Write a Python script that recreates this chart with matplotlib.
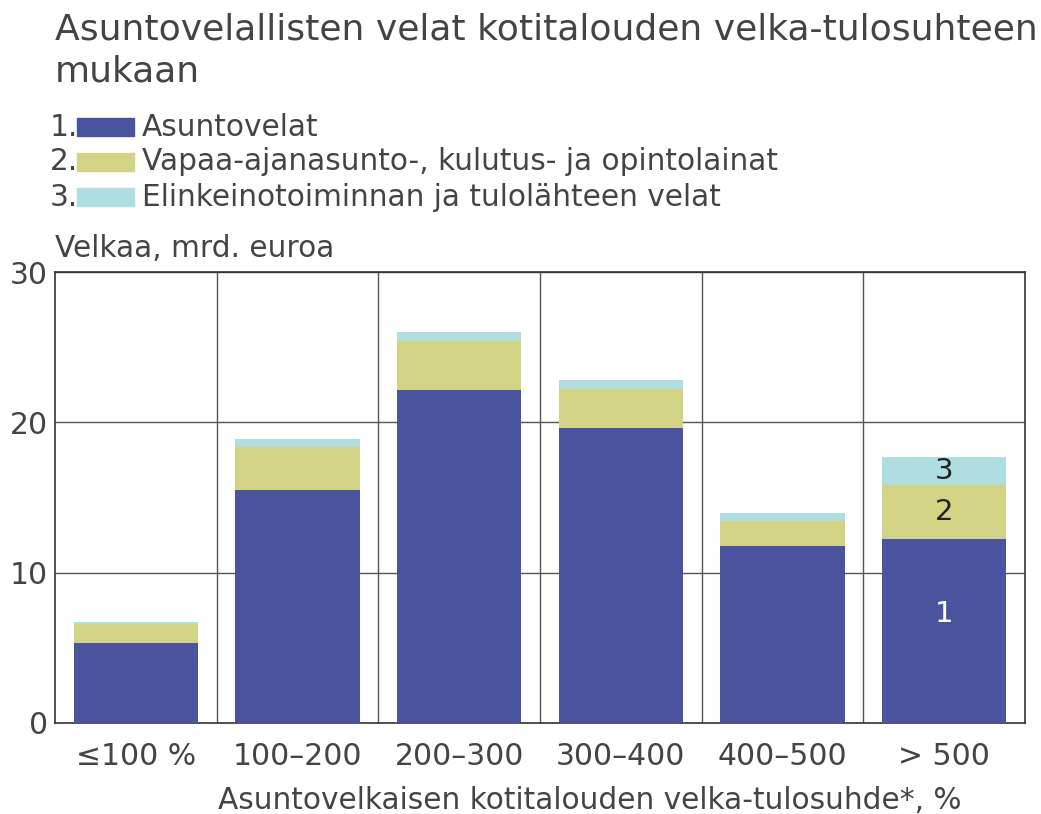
import numpy as np
import matplotlib.pyplot as plt

# Data
categories = ['\u2264100 %', '100\u2013200', '200\u2013300', '300\u2013400', '400\u2013500', '> 500']
asuntovelat = [5.3, 15.5, 22.15, 19.65, 11.8, 12.25]
vapaa_ajan = [1.3, 2.85, 3.25, 2.55, 1.65, 3.55]
elinkeino = [0.1, 0.55, 0.6, 0.6, 0.55, 1.9]
series_labels = ['Asuntovelat',
                 'Vapaa-ajanasunto-, kulutus- ja opintolainat',
                 'Elinkeinotoiminnan ja tulolähteen velat']
colors = ['#4a539e', '#d2d384', '#b0dde0']
text_col = '#444444'

plt.rcParams['font.family'] = ['DejaVu Sans']

fig = plt.figure(figsize=(10.41, 8.14), dpi=100)
ax = fig.add_axes([55 / 1041, 1 - 723 / 814, 970 / 1041, 451 / 814])

x = np.arange(len(categories))
w = 0.77
ax.bar(x, asuntovelat, w, color=colors[0], zorder=3)
ax.bar(x, vapaa_ajan, w, bottom=asuntovelat, color=colors[1], zorder=3)
bottom2 = np.array(asuntovelat) + np.array(vapaa_ajan)
ax.bar(x, elinkeino, w, bottom=bottom2, color=colors[2], zorder=3)

ax.set_xlim(-0.5, len(categories) - 0.5)
ax.set_ylim(0, 30)
ax.set_yticks([0, 10, 20, 30])
ax.set_xticks(x)
ax.set_xticklabels(categories)
ax.set_xticks(np.arange(0.5, len(categories) - 1, 1), minor=True)
ax.grid(True, which='minor', axis='x', color='#555555', lw=1, zorder=1)
ax.grid(True, which='major', axis='y', color='#555555', lw=1, zorder=1)
ax.tick_params(axis='both', which='both', length=0, labelsize=21.5, colors=text_col)
ax.tick_params(axis='x', pad=14)
ax.tick_params(axis='y', pad=5)
for s in ax.spines.values():
    s.set_color('#333333')
    s.set_linewidth(1.2)

# series numbers inside the last bar
last = len(categories) - 1
ax.text(last, asuntovelat[last] * 0.59, '1', ha='center', va='center', fontsize=21, color='white', zorder=4)
ax.text(last, asuntovelat[last] + vapaa_ajan[last] / 2, '2', ha='center', va='center', fontsize=21, color='#222222', zorder=4)
ax.text(last, bottom2[last] + elinkeino[last] / 2, '3', ha='center', va='center', fontsize=21, color='#222222', zorder=4)

ax.set_xlabel('Asuntovelkaisen kotitalouden velka-tulosuhde*, %', fontsize=21.3, color=text_col)
ax.xaxis.set_label_coords((590 - 55) / 970, -0.139)

fig.text(55 / 1041, 1 - 257 / 814, 'Velkaa, mrd. euroa', fontsize=21.3, color=text_col, va='baseline')

# Title
fig.text(55 / 1041, 1 - 39 / 814, 'Asuntovelallisten velat kotitalouden velka-tulosuhteen',
         fontsize=26, color=text_col, va='baseline')
fig.text(55 / 1041, 1 - 82 / 814, 'mukaan', fontsize=26, color=text_col, va='baseline')

# Legend built by hand
for i, lab in enumerate(series_labels):
    yc = 1 - (127 + i * 35) / 814
    fig.text(50 / 1041, yc, f'{i + 1}.', fontsize=21.3, color=text_col, va='center')
    fig.patches.append(plt.Rectangle((77 / 1041, yc - 9 / 814), 57 / 1041, 18 / 814,
                                     transform=fig.transFigure, color=colors[i]))
    fig.text(142 / 1041, yc, lab, fontsize=21.3, color=text_col, va='center')

fig.savefig('out.png', dpi=100)
